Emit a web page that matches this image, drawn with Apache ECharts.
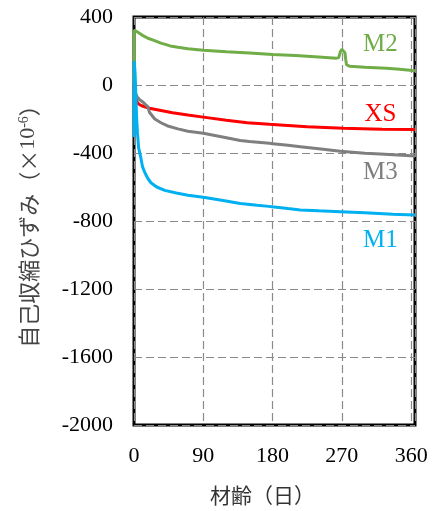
<!DOCTYPE html>
<html>
<head>
<meta charset="utf-8">
<script src="https://cdn.jsdelivr.net/npm/echarts@6/dist/echarts.min.js"></script>
<style>
  html, body { margin: 0; padding: 0; background: #fff; }
  #chart { width: 438px; height: 511px; }
</style>
</head>
<body>
<div id="chart"></div>
<script>
// Autogenous shrinkage (×10^-6) versus age (days) for four mixes
const xTicks = [0, 90, 180, 270, 360];
const yTicks = [-2000, -1600, -1200, -800, -400, 0, 400];

const m2Days   = [0, 0.3, 2, 5, 10, 18, 25, 35, 47, 57, 70, 90, 120, 150, 180, 210, 240, 263, 266, 268, 270, 272, 274, 275, 276, 280, 300, 328, 345, 365];
const m2Values = [0, 323, 325, 310, 295, 275, 264, 246, 230, 222, 213, 205, 196, 188, 180, 173, 165, 158, 162, 195, 210, 202, 190, 150, 120, 110, 104, 98, 92, 84];

const xsDays   = [0, 2, 4, 6, 10, 20, 35, 50, 70, 90, 120, 147, 176, 190, 225, 272, 322, 365];
const xsValues = [0, -60, -100, -112, -122, -137, -150, -163, -177, -189, -207, -222, -231, -235, -245, -255, -261, -262];

const m3Days   = [0, 1, 2, 4, 7, 11, 15, 18, 20, 21, 27, 35, 45, 57, 70, 90, 120, 138, 150, 176, 180, 200, 216, 240, 268, 300, 320, 365];
const m3Values = [0, -20, -49, -69, -85, -98, -115, -127, -160, -167, -200, -222, -243, -258, -272, -284, -310, -327, -333, -343, -345, -355, -363, -375, -390, -402, -406, -418];

const m1Days   = [0, 0.4, 1.5, 2.6, 3.5, 4.5, 6, 8.7, 11, 14.3, 18, 22, 29.5, 40, 55, 70, 90, 110, 138, 160, 175, 177, 179, 200, 216, 240, 268, 300, 336, 365];
const m1Values = [-306, 141, 60, -90, -200, -282, -370, -424, -480, -518, -550, -575, -600, -620, -635, -648, -660, -675, -697, -708, -714, -706, -716, -727, -735, -740, -745, -752, -760, -765];

const seriesNames = ['XS', 'M3', 'M2', 'M1'];

function pairs(days, values) {
  return days.map((d, i) => [d, values[i]]);
}

const serif = 'Liberation Serif, Times New Roman, serif';
const cjk = 'Noto Sans CJK JP, sans-serif';

function curve(name, days, values, color, labelAt) {
  return {
    name: name,
    type: 'line',
    data: pairs(days, values),
    showSymbol: false,
    symbol: 'none',
    smooth: false,
    lineStyle: { color: color, width: 3 },
    itemStyle: { color: color },
    animation: false,
    markPoint: {
      symbol: 'circle',
      symbolSize: 0,
      silent: true,
      animation: false,
      label: {
        show: true,
        position: 'inside',
        formatter: name,
        color: color,
        fontFamily: serif,
        fontSize: 25
      },
      data: [{ coord: labelAt }]
    }
  };
}

const chart = echarts.init(document.getElementById('chart'), null, { renderer: 'canvas' });
chart.setOption({
  backgroundColor: '#fff',
  animation: false,
  grid: {
    left: 134, top: 17, right: 23, bottom: 86,
    show: true, borderColor: '#000', borderWidth: 3, backgroundColor: 'transparent',
    containLabel: false
  },
  xAxis: {
    type: 'value',
    min: xTicks[0], max: 365, interval: 90,
    axisLine: { show: false },
    axisTick: { show: false },
    axisLabel: {
      margin: 20,
      color: '#000',
      fontFamily: serif,
      fontSize: 22,
      formatter: v => (xTicks.indexOf(v) >= 0 ? String(v) : '')
    },
    splitLine: { show: true, lineStyle: { color: '#8a8a8a', width: 1.2, type: [8, 4] } },
    name: '材齢（日）',
    nameLocation: 'middle',
    nameGap: 60,
    nameTextStyle: { fontFamily: cjk, fontSize: 21, color: '#333', padding: [0, 24, 0, 0] }
  },
  yAxis: {
    type: 'value',
    min: yTicks[0], max: yTicks[yTicks.length - 1], interval: 400,
    axisLine: { show: false },
    axisTick: { show: false },
    axisLabel: {
      margin: 21, color: '#000', fontFamily: serif, fontSize: 22,
      formatter: v => String(v)
    },
    splitLine: { show: true, lineStyle: { color: '#8a8a8a', width: 1.2, type: [8, 4] } },
    name: '{a|自己収縮ひずみ（×}{n|10}{s|-6}{a|）}',
    nameLocation: 'middle',
    nameGap: 94,
    nameTextStyle: {
      color: '#444',
      rich: {
        a: { fontFamily: cjk, fontSize: 22, color: '#444' },
        n: { fontFamily: serif, fontSize: 22, color: '#444' },
        s: { fontFamily: serif, fontSize: 14, color: '#444', padding: [0, 0, 9, 0] }
      }
    }
  },
  series: [
    curve(seriesNames[0], xsDays, xsValues, '#FF0000', [320, -171]),
    curve(seriesNames[1], m3Days, m3Values, '#7F7F7F', [320, -512]),
    curve(seriesNames[2], m2Days, m2Values, '#70AD47', [320, 241]),
    curve(seriesNames[3], m1Days, m1Values, '#00B0F0', [320, -912])
  ]
});
</script>
</body>
</html>
